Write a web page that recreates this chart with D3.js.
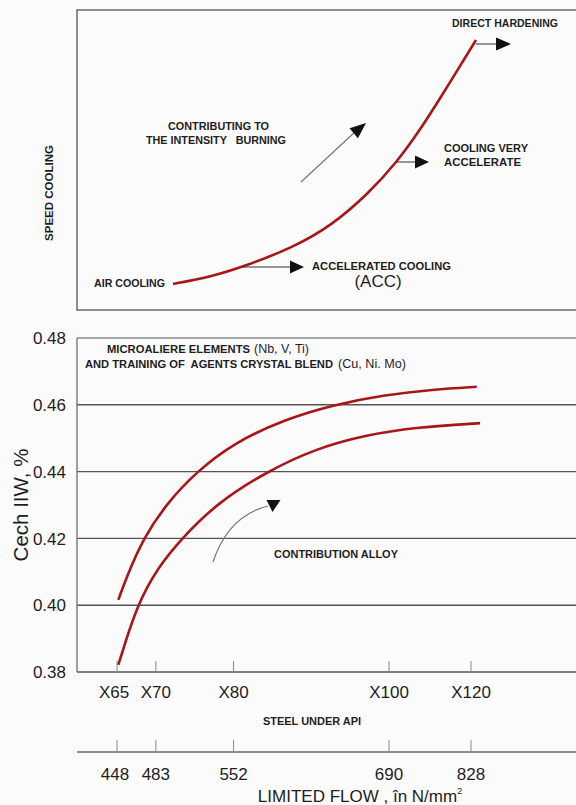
<!DOCTYPE html>
<html>
<head>
<meta charset="utf-8">
<script src="https://cdn.jsdelivr.net/npm/d3@7"></script>
<style>
  html, body { margin: 0; padding: 0; background: #fbfbfb; }
  svg { display: block; }
  text { font-family: "Liberation Sans", Arial, sans-serif; fill: #1e1e1e; white-space: pre; }
  .b { font-weight: bold; }
</style>
</head>
<body>
<svg id="chart" width="576" height="805"></svg>
<script>
// ---------- DATA ----------
// Top panel: cooling speed curve (arbitrary relative units 0-100)
const coolX = [19.2, 26.6, 33.2, 43.4, 50.8, 58.2, 64, 68.6, 72.8, 79.8];
const coolY = [8.67, 11, 14.33, 21, 28, 38.67, 49.33, 60, 71, 90];

// Bottom panel: carbon equivalent CE(IIW) vs API steel grade
const grades = ["X65", "X70", "X80", "X100", "X120"];
const gradeNum = [65, 70, 80, 100, 120];
const flowMPa = [448, 483, 552, 690, 828];
const yTicks = [0.38, 0.40, 0.42, 0.44, 0.46, 0.48];

const upperGrade = [65.17, 66.25, 68.38, 71.4, 75.26, 79.97, 86.4, 92.83, 99.27, 110.8, 121.4];
const upperCE    = [0.4016, 0.4085, 0.42, 0.4305, 0.44, 0.4485, 0.4555, 0.46, 0.4629, 0.4646, 0.4654];
const lowerGrade = [65.17, 67.54, 70.31, 73.33, 77.83, 84.26, 90.7, 97.13, 106.8, 122.2];
const lowerCE    = [0.3821, 0.40, 0.4115, 0.42, 0.4305, 0.44, 0.447, 0.451, 0.4533, 0.4545];

// ---------- DRAW ----------
(function () {
const svg = d3.select("#chart");
const W = 576;
const red = "#a8161a";

function arrowHead(g, tipX, tipY, angleDeg, len, half, fill) {
  const a = angleDeg * Math.PI / 180;
  const bx = tipX - len * Math.cos(a), by = tipY - len * Math.sin(a);
  const px = -Math.sin(a) * half, py = Math.cos(a) * half;
  g.append("path")
    .attr("d", `M${tipX},${tipY}L${bx + px},${by + py}L${bx - px},${by - py}Z`)
    .attr("fill", fill || "#111");
}

// ===== TOP PANEL =====
const topP = { left: 77, top: 10, bottom: 310 };
const xs = d3.scaleLinear().domain([0, 100]).range([topP.left, topP.left + 500]);
const ys = d3.scaleLinear().domain([0, 100]).range([topP.bottom, topP.top]);

svg.append("path")
  .attr("d", `M${W},${topP.top}H${topP.left}V${topP.bottom}H${W}`)
  .attr("fill", "none").attr("stroke", "#6a6a6a").attr("stroke-width", 1.5);

svg.append("text").attr("class", "b")
  .attr("transform", `translate(53,${(topP.top + topP.bottom) / 2 + 33}) rotate(-90)`)
  .attr("text-anchor", "middle").attr("font-size", 10)
  .attr("textLength", 96).attr("lengthAdjust", "spacingAndGlyphs")
  .text("SPEED COOLING");

const coolPts = coolX.map((x, i) => [x, coolY[i]]);
svg.append("path")
  .attr("d", d3.line().x(d => xs(d[0])).y(d => ys(d[1])).curve(d3.curveBasis)(coolPts))
  .attr("fill", "none").attr("stroke", red).attr("stroke-width", 2.6);

const gTop = svg.append("g");
// horizontal arrows anchored on curve points
[[2, 47, 14], [6, 18, 14], [9, 20, 15]].forEach(([idx, lineLen, headLen]) => {
  const x0 = xs(coolX[idx]), y0 = ys(coolY[idx]) + (idx === 9 ? 4 : 0);
  gTop.append("line").attr("x1", x0).attr("y1", y0).attr("x2", x0 + lineLen + 1).attr("y2", y0)
    .attr("stroke", "#333").attr("stroke-width", 1);
  arrowHead(gTop, x0 + lineLen + headLen, y0, 0, headLen, 6.5);
});

// diagonal arrow (contributing to intensity)
gTop.append("line").attr("x1", 301).attr("y1", 182).attr("x2", 356).attr("y2", 131)
  .attr("stroke", "#777").attr("stroke-width", 1.2);
arrowHead(gTop, 366, 123, -40, 16, 6.5);

function label(x, y, txt, len, anchor) {
  const t = svg.append("text").attr("class", "b").attr("x", x).attr("y", y)
    .attr("font-size", 10).attr("text-anchor", anchor || "start").text(txt);
  if (len) t.attr("textLength", len).attr("lengthAdjust", "spacingAndGlyphs");
  return t;
}
label(452, 27, "DIRECT HARDENING", 106);
label(168, 130, "CONTRIBUTING TO", 101);
label(146, 144, "THE INTENSITY   BURNING", 140);
label(444, 152, "COOLING VERY", 84);
label(444, 166, "ACCELERATE", 77);
label(312, 270, "ACCELERATED COOLING", 139);
label(94, 287, "AIR COOLING", 71);
svg.append("text").attr("x", 378).attr("y", 287).attr("text-anchor", "middle")
  .attr("font-size", 17).text("(ACC)");

// ===== BOTTOM PANEL =====
const bot = { left: 77, top: 338, bottom: 672 };
const x = d3.scaleLinear().domain([65, 100, 120]).range([117, 389, 471]);
const y = d3.scaleLinear().domain([0.38, 0.48]).range([bot.bottom, bot.top]);

// gridlines
svg.append("g").selectAll("line").data(yTicks).join("line")
  .attr("x1", bot.left).attr("x2", W)
  .attr("y1", d => y(d)).attr("y2", d => y(d))
  .attr("stroke", d => d === 0.48 ? "#8a8a8a" : "#555")
  .attr("stroke-width", 1.4);
svg.append("line").attr("x1", bot.left).attr("x2", bot.left)
  .attr("y1", bot.top).attr("y2", bot.bottom).attr("stroke", "#777").attr("stroke-width", 1.4);

// y tick labels
svg.append("g").selectAll("text").data(yTicks).join("text")
  .attr("x", 66).attr("y", d => y(d)).attr("dy", "0.36em")
  .attr("text-anchor", "end").attr("font-size", 17)
  .text(d => d3.format(".2f")(d));

svg.append("text")
  .attr("transform", `translate(28,${(bot.top + bot.bottom) / 2}) rotate(-90)`)
  .attr("text-anchor", "middle").attr("font-size", 20.5).text("Cech IIW, %");

// x ticks on main axis
svg.append("g").selectAll("line").data(gradeNum).join("line")
  .attr("x1", d => x(d)).attr("x2", d => x(d))
  .attr("y1", bot.bottom).attr("y2", bot.bottom - 11)
  .attr("stroke", "#888").attr("stroke-width", 1);

svg.append("g").selectAll("text").data(grades).join("text")
  .attr("x", (d, i) => x(gradeNum[i]) - (i === 0 ? 3 : 0)).attr("y", 698)
  .attr("text-anchor", "middle").attr("font-size", 17).text(d => d);

label(312, 725, "STEEL UNDER API", 98, "middle");

// secondary axis: limited flow
const axY = 752;
svg.append("line").attr("x1", bot.left).attr("x2", W).attr("y1", axY).attr("y2", axY)
  .attr("stroke", "#666").attr("stroke-width", 1.4);
svg.append("g").selectAll("line").data(gradeNum).join("line")
  .attr("x1", d => x(d)).attr("x2", d => x(d))
  .attr("y1", axY).attr("y2", axY - 12)
  .attr("stroke", "#888").attr("stroke-width", 1);
svg.append("g").selectAll("text").data(flowMPa).join("text")
  .attr("x", (d, i) => x(gradeNum[i]) - (i === 0 ? 2 : 0)).attr("y", 780)
  .attr("text-anchor", "middle").attr("font-size", 17).text(d => d);

const xt = svg.append("text").attr("x", 360).attr("y", 802).attr("text-anchor", "middle")
  .attr("font-size", 17);
xt.append("tspan").text("LIMITED FLOW , în N/mm");
xt.append("tspan").attr("font-size", 9).attr("dy", -8).text("2");

// curves
const line = d3.line().x(d => x(d[0])).y(d => y(d[1])).curve(d3.curveBasis);
[[upperGrade, upperCE], [lowerGrade, lowerCE]].forEach(([gx, gy]) => {
  svg.append("path")
    .attr("d", line(gx.map((v, i) => [v, gy[i]])))
    .attr("fill", "none").attr("stroke", red).attr("stroke-width", 2.6);
});

// contribution alloy arrow
svg.append("path").attr("d", "M213,562 Q228,516 268,506")
  .attr("fill", "none").attr("stroke", "#777").attr("stroke-width", 1.2);
svg.append("path").attr("d", "M266.5,500 L280.5,500 L272.5,512 Z").attr("fill", "#111");
label(336, 558, "CONTRIBUTION ALLOY", 124, "middle");

// microalloy text
label(107, 353, "MICROALIERE ELEMENTS", 143);
svg.append("text").attr("x", 254).attr("y", 353).attr("font-size", 12.5)
  .attr("textLength", 55).attr("lengthAdjust", "spacingAndGlyphs").text("(Nb, V, Ti)");
label(85, 368, "AND TRAINING OF  AGENTS CRYSTAL BLEND", 248);
svg.append("text").attr("x", 338).attr("y", 368).attr("font-size", 12.5)
  .attr("textLength", 68).attr("lengthAdjust", "spacingAndGlyphs").text("(Cu, Ni. Mo)");
})();
</script>
</body>
</html>
